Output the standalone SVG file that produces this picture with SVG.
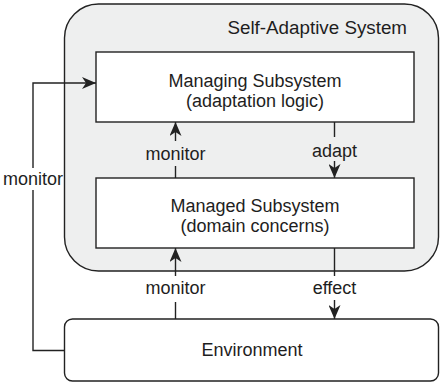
<svg xmlns="http://www.w3.org/2000/svg" width="440" height="382" viewBox="0 0 440 382">
<style>
  .box { fill: #ffffff; stroke: #222222; stroke-width: 1.4; }
  .outer { fill: #eeefef; stroke: #222222; stroke-width: 1.4; }
  .edge { fill: none; stroke: #222222; stroke-width: 1.4; }
  text { font-family: "Liberation Sans", Arial, sans-serif; font-size: 18px; fill: #1e1e1e; }
  .c { text-anchor: middle; }
  .title { font-size: 18.8px; text-anchor: end; }
</style>
<defs>
  <marker id="arr" viewBox="0 0 14 12" refX="14" refY="6" markerWidth="14" markerHeight="12" markerUnits="userSpaceOnUse" orient="auto">
    <path d="M0,0 L14,6 L0,12 L4,6 Z" fill="#222222"/>
  </marker>
</defs>
<g id="self-adaptive-system">
  <rect class="outer" x="64.5" y="4" width="374" height="267" rx="34" ry="34"/>
  <text class="title" x="407" y="34">Self-Adaptive System</text>
</g>
<g id="managing-subsystem">
  <rect class="box" x="96" y="52" width="318" height="70"/>
  <text class="c" x="255" y="87">Managing Subsystem</text>
  <text class="c" x="255" y="107">(adaptation logic)</text>
</g>
<g id="managed-subsystem">
  <rect class="box" x="96" y="178" width="318" height="70"/>
  <text class="c" x="255" y="212">Managed Subsystem</text>
  <text class="c" x="255" y="232">(domain concerns)</text>
</g>
<g id="environment">
  <rect class="box" x="64.5" y="319" width="374" height="62" rx="8" ry="8"/>
  <text class="c" x="252" y="356">Environment</text>
</g>
<g id="connectors">
  <!-- managed -> managing monitor -->
  <line class="edge" x1="175.5" y1="178" x2="175.5" y2="166"/>
  <line class="edge" x1="175.5" y1="141" x2="175.5" y2="122" marker-end="url(#arr)"/>
  <text class="c" x="175.5" y="160">monitor</text>
  <!-- managing -> managed adapt -->
  <line class="edge" x1="334.5" y1="122" x2="334.5" y2="137"/>
  <line class="edge" x1="334.5" y1="161" x2="334.5" y2="178" marker-end="url(#arr)"/>
  <text class="c" x="334.5" y="157">adapt</text>
  <!-- environment -> managed monitor -->
  <line class="edge" x1="175.5" y1="319" x2="175.5" y2="302"/>
  <line class="edge" x1="175.5" y1="276" x2="175.5" y2="248" marker-end="url(#arr)"/>
  <text class="c" x="175.5" y="294">monitor</text>
  <!-- managed -> environment effect -->
  <line class="edge" x1="334.5" y1="248" x2="334.5" y2="276"/>
  <line class="edge" x1="334.5" y1="300" x2="334.5" y2="319" marker-end="url(#arr)"/>
  <text class="c" x="334.5" y="294">effect</text>
  <!-- environment -> managing monitor (left loop) -->
  <polyline class="edge" points="64.5,350.5 33,350.5 33,190"/>
  <polyline class="edge" points="33,168 33,83 96,83" marker-end="url(#arr)"/>
  <text class="c" x="33" y="185">monitor</text>
</g>
</svg>
